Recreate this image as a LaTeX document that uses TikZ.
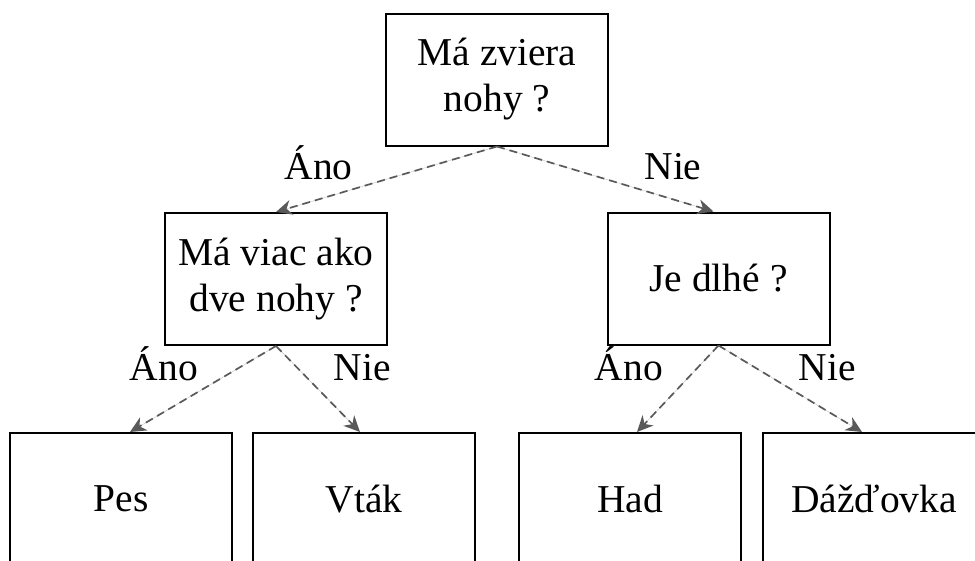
\documentclass[tikz,border=0pt]{standalone}
\usepackage{fontspec}
\setmainfont{Liberation Serif}
\usepackage{xcolor}
\usepackage{tikz}
\usetikzlibrary{arrows.meta, positioning}

\begin{document}
\begin{tikzpicture}[x=1pt, y=-1pt,
		qbox/.style={rectangle, draw=black, line width=2pt, fill=white, minimum width=222pt, minimum height=132pt, align=center, font=\fontsize{39.5}{46}\selectfont},
		answer/.style={anchor=base, inner sep=0pt, font=\fontsize{39.5}{46}\selectfont},
		arrow/.style={-{Stealth[length=16pt, width=15pt, inset=5pt]}, dashed, dash pattern=on 8pt off 5pt, line width=1.7pt, draw=black!65, fill=black!70}
		]
		\clip (0,0) rectangle (975,560);
		
		% root question
		\node[qbox] (legs) at (497,79.5) {Má zviera\\nohy ?};
		
		% second level
		\node[qbox] (morelegs) at (276,279) {Má viac ako\\dve nohy ?};
		\node[qbox] (long) at (718.5,278.5) {Je dlhé ?};
		\node[answer] (legsyes) at (318.5,179) {Áno};
		\node[answer] (legsno) at (673,179) {Nie};
		\draw[arrow] (legs.south) -- (morelegs.north);
		\draw[arrow] (legs.south) -- ([xshift=-5pt]long.north);
		
		% leaves under morelegs
		\node[qbox] (dog) at (121,499) {Pes};
		\node[qbox, right=19pt of dog] (bird) {Vták};
		\node[answer] (moreyes) at (164,380) {Áno};
		\node[answer] (moreno) at (362.5,380) {Nie};
		\draw[arrow] (morelegs.south) -- ([xshift=9pt]dog.north);
		\draw[arrow] (morelegs.south) -- ([xshift=-4pt]bird.north);
		
		% leaves under long
		\node[qbox] (snake) at (630,499) {Had};
		\node[qbox, right=20pt of snake] (worm) {Dážďovka};
		\node[answer] (longyes) at (629,380) {Áno};
		\node[answer] (longno) at (827.5,380) {Nie};
		\draw[arrow] (long.south) -- ([xshift=7pt]snake.north);
		\draw[arrow] (long.south) -- ([xshift=-12pt]worm.north);
		
	\end{tikzpicture}
\end{document}
